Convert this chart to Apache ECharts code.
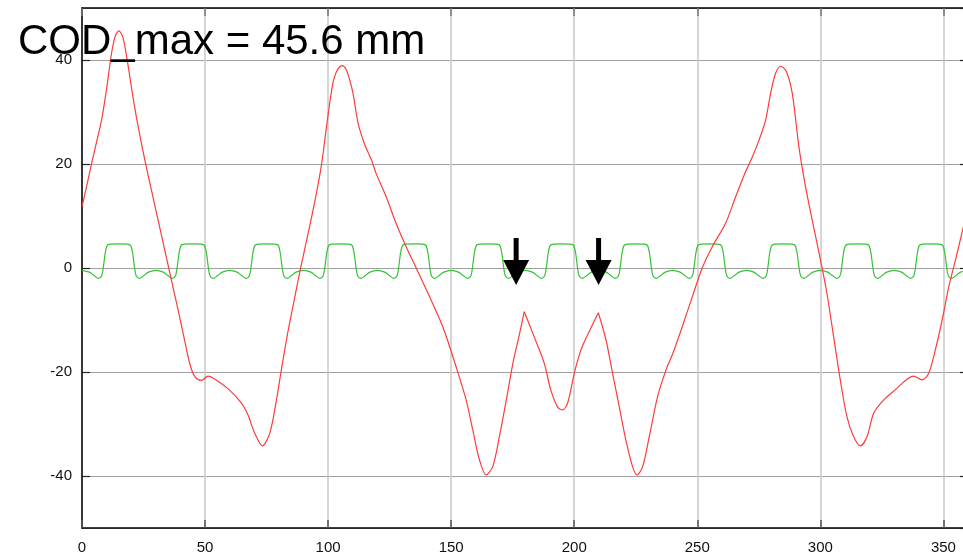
<!DOCTYPE html>
<html>
<head>
<meta charset="utf-8">
<script src="https://cdn.jsdelivr.net/npm/echarts@6/dist/echarts.min.js"></script>
<style>
html,body{margin:0;padding:0;background:#fff;}
#c{width:963px;height:560px;}
</style>
</head>
<body>
<div id="c"></div>
<script>
// ---- data ----
const titleText = 'COD_max = 45.6 mm';

// red curve: closed orbit distortion (mm) vs position
const redX = [0,2,4,6,8,10,12,13.5,15.0,16.6,18.5,20.5,22.5,25.6,29.0,32.4,35.8,38.5,41.2,43.9,46.0,48.5,51.2,53.4,59.5,64.8,67.5,70.2,73.3,76.3,79.0,81.0,83.7,86.5,89.1,91.9,94.6,97.3,99.3,101.3,102.5,104.0,105.7,107.5,109.0,110.2,112.2,114.9,117.6,119.5,123.6,127.6,131.7,135.8,141.2,146.6,152.0,156.1,158.8,161.5,164.2,166.9,169.6,172.4,175.1,177.8,179.7,183.7,187.8,190.5,193.2,195.2,197.3,200.0,202.7,206.1,209.8,212.9,215.6,218.3,221.0,223.7,225.5,227.8,230.5,233.9,237.3,240.0,243.9,248.0,252.0,256.1,261.5,265.6,269.6,272.4,275.1,277.8,279.8,281.8,283.9,286.2,288.6,291.3,294.0,296.7,300.3,302.7,305.4,308.1,310.8,313.5,316.3,319.0,321.7,325.7,331.2,335.2,337.9,341.3,344.0,346.7,349.5,352.2,354.9,358.3,360];
const redY = [11.8,16.0,20.3,24.4,28.6,34.5,41.3,44.6,45.6,44.4,39.6,33.5,28.0,20.6,13.3,6.1,-1.2,-6.9,-12.8,-18.6,-21.0,-21.6,-20.8,-21.2,-23.3,-26.0,-28.3,-31.8,-34.2,-31.8,-25.4,-19.6,-12.2,-5.5,0.6,6.7,12.8,19.8,27.0,33.8,36.6,38.3,38.9,38.0,35.8,33.4,27.8,23.7,20.8,18.2,13.7,8.6,4.1,0.0,-5.5,-11.3,-19.0,-25.4,-31.2,-36.9,-39.8,-38.2,-32.4,-25.4,-18.3,-12.6,-8.4,-13.2,-18.3,-23.5,-26.7,-27.3,-26.0,-20.3,-15.8,-12.2,-8.6,-13.8,-20.3,-26.7,-33.1,-38.2,-39.8,-38.2,-32.4,-24.7,-19.6,-16.5,-11.3,-5.5,0.0,4.1,8.6,13.7,18.5,21.4,24.6,28.5,33.6,37.4,38.8,37.8,33.6,23.3,15.6,9.2,1.0,-4.9,-13.2,-21.5,-28.6,-32.4,-34.2,-32.4,-27.9,-25.4,-23.1,-21.4,-20.8,-21.5,-20.3,-15.8,-10.0,-3.6,1.5,8.3,11.5];
// sharp (non-smooth) peaks of the red curve
const redKinkX = [179.7, 209.8];

// green curve
const greenX = [
0,3,5,6.7,8,8.7,9.4,10.2,11.5,15,18.5,19.8,20.6,21.3,22,23.3,25,27,
30,33,35,36.7,38,38.7,39.4,40.2,41.5,45,48.5,49.8,50.6,51.3,52,53.3,55,57,
60,63,65,66.7,68,68.7,69.4,70.2,71.5,75,78.5,79.8,80.6,81.3,82,83.3,85,87,
90,93,95,96.7,98,98.7,99.4,100.2,101.5,105,108.5,109.8,110.6,111.3,112,113.3,115,117,
120,123,125,126.7,128,128.7,129.4,130.2,131.5,135,138.5,139.8,140.6,141.3,142,143.3,145,147,
150,153,155,156.7,158,158.7,159.4,160.2,161.5,165,168.5,169.8,170.6,171.3,172,173.3,175,177,
180,183,185,186.7,188,188.7,189.4,190.2,191.5,195,198.5,199.8,200.6,201.3,202,203.3,205,207,
210,213,215,216.7,218,218.7,219.4,220.2,221.5,225,228.5,229.8,230.6,231.3,232,233.3,235,237,
240,243,245,246.7,248,248.7,249.4,250.2,251.5,255,258.5,259.8,260.6,261.3,262,263.3,265,267,
270,273,275,276.7,278,278.7,279.4,280.2,281.5,285,288.5,289.8,290.6,291.3,292,293.3,295,297,
300,303,305,306.7,308,308.7,309.4,310.2,311.5,315,318.5,319.8,320.6,321.3,322,323.3,325,327,
330,333,335,336.7,338,338.7,339.4,340.2,341.5,345,348.5,349.8,350.6,351.3,352,353.3,355,357,
360];
const greenY = [
-0.45,-0.8,-1.5,-2.0,-1.5,0.2,2.8,4.3,4.6,4.65,4.6,4.3,2.8,0.2,-1.5,-2.0,-1.5,-0.8,
-0.45,-0.8,-1.5,-2.0,-1.5,0.2,2.8,4.3,4.6,4.65,4.6,4.3,2.8,0.2,-1.5,-2.0,-1.5,-0.8,
-0.45,-0.8,-1.5,-2.0,-1.5,0.2,2.8,4.3,4.6,4.65,4.6,4.3,2.8,0.2,-1.5,-2.0,-1.5,-0.8,
-0.45,-0.8,-1.5,-2.0,-1.5,0.2,2.8,4.3,4.6,4.65,4.6,4.3,2.8,0.2,-1.5,-2.0,-1.5,-0.8,
-0.45,-0.8,-1.5,-2.0,-1.5,0.2,2.8,4.3,4.6,4.65,4.6,4.3,2.8,0.2,-1.5,-2.0,-1.5,-0.8,
-0.45,-0.8,-1.5,-2.0,-1.5,0.2,2.8,4.3,4.6,4.65,4.6,4.3,2.8,0.2,-1.5,-2.0,-1.5,-0.8,
-0.45,-0.8,-1.5,-2.0,-1.5,0.2,2.8,4.3,4.6,4.65,4.6,4.3,2.8,0.2,-1.5,-2.0,-1.5,-0.8,
-0.45,-0.8,-1.5,-2.0,-1.5,0.2,2.8,4.3,4.6,4.65,4.6,4.3,2.8,0.2,-1.5,-2.0,-1.5,-0.8,
-0.45,-0.8,-1.5,-2.0,-1.5,0.2,2.8,4.3,4.6,4.65,4.6,4.3,2.8,0.2,-1.5,-2.0,-1.5,-0.8,
-0.45,-0.8,-1.5,-2.0,-1.5,0.2,2.8,4.3,4.6,4.65,4.6,4.3,2.8,0.2,-1.5,-2.0,-1.5,-0.8,
-0.45,-0.8,-1.5,-2.0,-1.5,0.2,2.8,4.3,4.6,4.65,4.6,4.3,2.8,0.2,-1.5,-2.0,-1.5,-0.8,
-0.45,-0.8,-1.5,-2.0,-1.5,0.2,2.8,4.3,4.6,4.65,4.6,4.3,2.8,0.2,-1.5,-2.0,-1.5,-0.8,
-0.45];

// arrow annotations (data coordinates of arrow centres)
const arrowX = [176.4, 209.9];
const arrowY = [1.25, 1.25];

// axis ranges
const xMin = 0, xMax = 360, xStep = 50;
const yMin = -50, yMax = 50;

// ---- build ----
function pairs(xs, ys) { return xs.map((x, i) => [x, ys[i]]); }
const redAll = pairs(redX, redY);
const redSegments = [];
let start = 0;
redKinkX.forEach(k => {
  const idx = redX.indexOf(k);
  redSegments.push(redAll.slice(start, idx + 1));
  start = idx;
});
redSegments.push(redAll.slice(start));

const FONT = 'Liberation Sans';
const arrowPath = 'path://M10.5 0 L15.5 0 L15.5 22 L26 22 L13 47 L0 22 L10.5 22 Z';

const series = [];
series.push({
  type: 'line', data: pairs(greenX, greenY), showSymbol: false, smooth: 0.3,
  lineStyle: { color: '#35c435', width: 1.2 }, z: 3, silent: true
});
redSegments.forEach(seg => series.push({
  type: 'line', data: seg, showSymbol: false, smooth: 0.3,
  lineStyle: { color: '#ff3b3b', width: 1.2 }, z: 4, silent: true
}));
series.push({
  type: 'scatter', data: pairs(arrowX, arrowY), symbol: arrowPath,
  symbolSize: [26, 47], symbolKeepAspect: false,
  itemStyle: { color: '#000', opacity: 1 }, z: 10, silent: true
});

const chart = echarts.init(document.getElementById('c'), null, { renderer: 'canvas' });
chart.setOption({
  animation: false,
  backgroundColor: '#fff',
  title: {
    text: titleText, left: 13, top: 16, z: 20,
    textStyle: { fontFamily: FONT, fontSize: 42, fontWeight: 'normal', color: '#000' }
  },
  grid: { left: 82, top: 8, right: -5, bottom: 32, outerBoundsMode: 'none', containLabel: false },
  xAxis: [
    {
      type: 'value', min: xMin, max: xMax, interval: xStep, position: 'bottom',
      axisLine: { show: true, onZero: false, lineStyle: { color: '#000', width: 1.5 } },
      axisTick: { show: true, inside: true, length: 8, lineStyle: { color: '#555', width: 1.5 } },
      axisLabel: { showMaxLabel: false, color: '#111', fontSize: 15, fontFamily: FONT, margin: 12 },
      splitLine: { show: true, lineStyle: { color: '#c8c8c8', width: 1.5 } }
    },
    {
      type: 'value', min: xMin, max: xMax, interval: xStep, position: 'top',
      axisLine: { show: true, onZero: false, lineStyle: { color: '#000', width: 1.5 } },
      axisTick: { show: true, inside: true, length: 8, lineStyle: { color: '#777', width: 1.5 } },
      axisLabel: { show: false }, splitLine: { show: false }
    }
  ],
  yAxis: [
    {
      type: 'value', min: yMin, max: yMax, splitNumber: 5, position: 'left',
      axisLine: { show: true, onZero: false, lineStyle: { color: '#000', width: 1.5 } },
      axisTick: { show: true, inside: true, length: 8, lineStyle: { color: '#222', width: 1.2 } },
      axisLabel: { showMinLabel: false, showMaxLabel: false, color: '#111', fontSize: 15, fontFamily: FONT, margin: 10 },
      splitLine: { show: true, lineStyle: { color: '#a0a0a0', width: 1 } }
    },
    {
      type: 'value', min: yMin, max: yMax, splitNumber: 5, position: 'right',
      axisLine: { show: true, onZero: false, lineStyle: { color: '#000', width: 1.5 } },
      axisTick: { show: true, inside: true, length: 8, lineStyle: { color: '#222', width: 1.2 } },
      axisLabel: { show: false }, splitLine: { show: false }
    }
  ],
  series: series
});
</script>
</body>
</html>
